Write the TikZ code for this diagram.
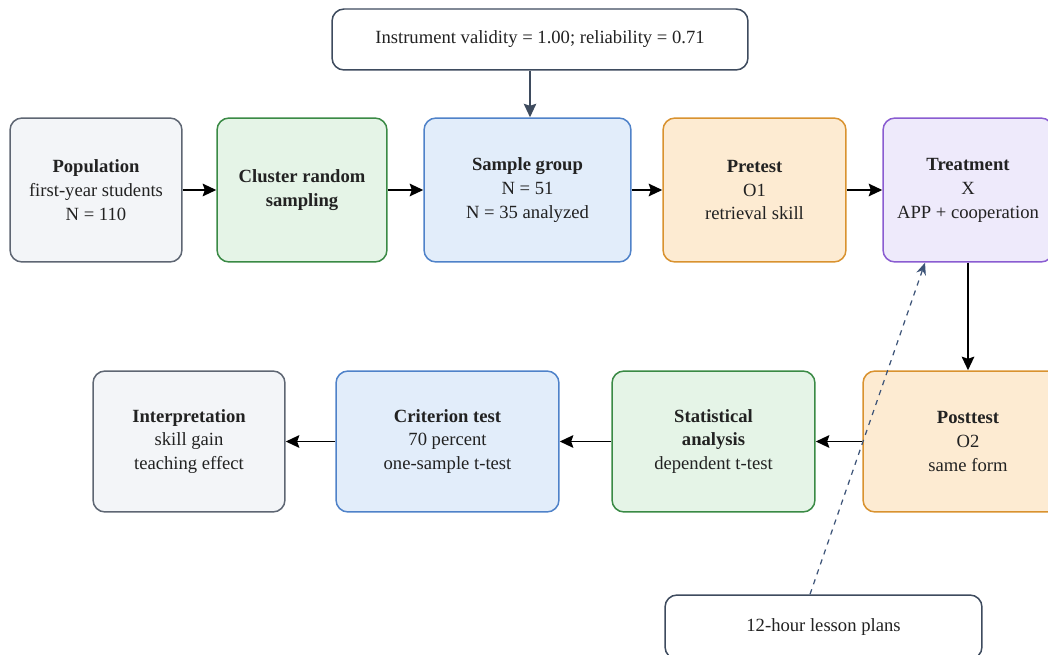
\documentclass[tikz,border=0pt]{standalone}
\usepackage{fontspec}
\setmainfont{Liberation Serif}
\usepackage{tikz}
\usetikzlibrary{positioning,arrows.meta}

\definecolor{txtc}{HTML}{222222}
\definecolor{grayln}{HTML}{5E6673}
\definecolor{grayfl}{HTML}{F3F5F8}
\definecolor{greenln}{HTML}{3A8A45}
\definecolor{greenfl}{HTML}{E5F4E7}
\definecolor{blueln}{HTML}{4F82C9}
\definecolor{bluefl}{HTML}{E2EDFA}
\definecolor{orangeln}{HTML}{D9922F}
\definecolor{orangefl}{HTML}{FDEBD2}
\definecolor{purpleln}{HTML}{8A5CD1}
\definecolor{purplefl}{HTML}{EEEAFB}
\definecolor{slateln}{HTML}{3E4B5E}
\definecolor{dashln}{HTML}{3D5478}

\begin{document}
\begin{tikzpicture}[x=0.02cm, y=-0.02cm,
    every node/.style={font=\fontsize{10.6}{13.6}\selectfont, text=txtc},
    stage/.style={rectangle, rounded corners=0.24cm, line width=0.85pt, align=center, minimum height=2.88cm},
    note/.style={stage, draw=slateln, fill=white, minimum height=1.22cm},
    arr/.style={line width=1.1pt, -{Stealth[length=2.7mm,width=2.5mm,inset=0.4mm]}}]
    \fill[white] (0,0) rectangle (1048,655);
    \useasboundingbox (0,0) rectangle (1048,655);
    \clip (0,0) rectangle (1048,655);

    % Row 1 - design from population to treatment
    \node[stage, draw=grayln, fill=grayfl, minimum width=3.44cm] (pop) at (96,190)
        {\textbf{Population}\\first-year students\\N = 110};
    \node[stage, draw=greenln, fill=greenfl, minimum width=3.40cm] (clus) at (302,190)
        {\textbf{Cluster random}\\\textbf{sampling}};
    \node[stage, draw=blueln, fill=bluefl, minimum width=4.14cm] (samp) at (527.5,190)
        {\textbf{Sample group}\\N = 51\\N = 35 analyzed};
    \node[stage, draw=orangeln, fill=orangefl, minimum width=3.66cm] (pre) at (754.5,190)
        {\textbf{Pretest}\\O1\\retrieval skill};
    \node[stage, draw=purpleln, fill=purplefl, minimum width=3.40cm] (treat) at (968,190)
        {\textbf{Treatment}\\X\\APP + cooperation};

    % Row 2 - posttest back to interpretation
    \node[stage, draw=orangeln, fill=orangefl, minimum width=4.20cm, minimum height=2.82cm] (post) at (968,441.5)
        {\textbf{Posttest}\\O2\\same form};
    \node[stage, draw=greenln, fill=greenfl, minimum width=4.06cm, minimum height=2.82cm] (stat) at (713.5,441.5)
        {\textbf{Statistical}\\\textbf{analysis}\\dependent t-test};
    \node[stage, draw=blueln, fill=bluefl, minimum width=4.46cm, minimum height=2.82cm] (crit) at (447.5,441.5)
        {\textbf{Criterion test}\\70 percent\\one-sample t-test};
    \node[stage, draw=grayln, fill=grayfl, minimum width=3.84cm, minimum height=2.82cm] (interp) at (189,441.5)
        {\textbf{Interpretation}\\skill gain\\teaching effect};

    % Notes
    \node[note, minimum width=8.32cm] (instr) at (540,39.5)
        {Instrument validity = 1.00; reliability = 0.71};
    \node[note, minimum width=6.34cm, minimum height=1.28cm] (plans) at (823.5,627)
        {12-hour lesson plans};

    \draw[arr] (pop) -- (clus);
    \draw[arr] (clus) -- (samp);
    \draw[arr] (samp) -- (pre);
    \draw[arr] (pre) -- (treat);
    \draw[arr] (treat) -- (post);
    \draw[arr] (post) -- (stat);
    \draw[arr] (stat) -- (crit);
    \draw[arr] (crit) -- (interp);
    \draw[arr, slateln, line width=0.8pt] ([xshift=-0.2cm]instr.south) -- ([xshift=-0.2cm]instr.south |- samp.north);
    \draw[dashln, dashed, line width=0.7pt, -{Stealth[length=2.4mm,width=2mm]}]
        ([xshift=-0.27cm]plans.north) -- ([xshift=-0.86cm]treat.south);
\end{tikzpicture}
\end{document}
